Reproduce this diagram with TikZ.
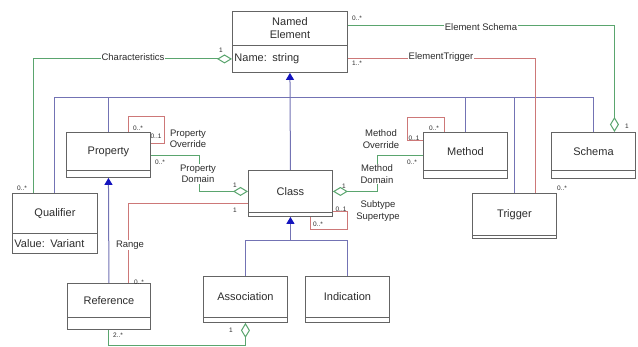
\documentclass[tikz,border=0pt]{standalone}
\usepackage{fontspec}
\setmainfont{Liberation Sans}
\usetikzlibrary{arrows.meta,calc}
\definecolor{boxc}{RGB}{100,100,100}
\definecolor{txtc}{RGB}{45,45,45}
\definecolor{inhc}{RGB}{115,115,180}
\definecolor{grnc}{RGB}{90,165,110}
\definecolor{redc}{RGB}{205,120,120}
\definecolor{tric}{RGB}{20,20,190}
\tikzset{
  clsbox/.style={draw=boxc, line width=0.9pt, fill=white, inner sep=0pt, anchor=north west,
    text=txtc, font=\fontsize{11}{13}\selectfont, align=center},
  cmpbox/.style={draw=boxc, line width=0.9pt, fill=white, inner ysep=0pt, inner xsep=2pt, anchor=north west,
    text=txtc, font=\fontsize{11}{13}\selectfont, align=left},
  inh/.style={draw=inhc, line width=1pt},
  inhtip/.style={inh, -{Triangle[length=7pt,width=8pt,color=tric]}},
  grn/.style={draw=grnc, line width=1pt},
  agg/.style={grn, {Diamond[open,length=15pt,width=9pt,color=grnc]}-},
  rel/.style={draw=redc, line width=1pt},
  lbl/.style={fill=white, inner sep=1pt, text=txtc, font=\fontsize{9.5}{11.5}\selectfont, align=center},
  mult/.style={inner sep=0pt, text=txtc, font=\fontsize{6.5}{7}\selectfont}
}
\begin{document}
\begin{tikzpicture}[x=1pt,y=-1pt]
\fill[white] (0,0) rectangle (638,347);
\useasboundingbox (0,0) rectangle (638,347);

% classes
\node[clsbox, minimum width=115pt, minimum height=34pt] (ne) at (232,11) {Named\\Element};
\node[cmpbox, text width=111pt, minimum height=27pt] (nec) at (232,45) {Name: string};

\node[clsbox, minimum width=84pt, minimum height=38pt] (prop) at (66,132) {Property};
\node[clsbox, minimum width=84pt, minimum height=7pt] (propc) at (66,170) {};

\node[clsbox, minimum width=84pt, minimum height=38pt] (meth) at (423,132) {Method};
\node[clsbox, minimum width=84pt, minimum height=8pt] (methc) at (423,170) {};

\node[clsbox, minimum width=84pt, minimum height=38pt] (sch) at (551,132) {Schema};
\node[clsbox, minimum width=84pt, minimum height=8pt] (schc) at (551,170) {};

\node[clsbox, minimum width=84pt, minimum height=42pt] (cls) at (248,170) {Class};
\node[clsbox, minimum width=84pt, minimum height=4pt] (clsc) at (248,212) {};

\node[clsbox, minimum width=85pt, minimum height=40pt] (qual) at (12,193) {Qualifier};
\node[cmpbox, text width=81pt, minimum height=20pt] (qualc) at (12,233) {Value: Variant};

\node[clsbox, minimum width=84pt, minimum height=42pt] (trg) at (472,193) {Trigger};
\node[clsbox, minimum width=84pt, minimum height=3pt] (trgc) at (472,235) {};

\node[clsbox, minimum width=83pt, minimum height=34pt] (ref) at (67,283) {Reference};
\node[clsbox, minimum width=83pt, minimum height=12pt] (refc) at (67,317) {};

\node[clsbox, minimum width=84pt, minimum height=41pt] (asc) at (203,276) {Association};
\node[clsbox, minimum width=84pt, minimum height=5pt] (ascc) at (203,317) {};

\node[clsbox, minimum width=84pt, minimum height=41pt] (ind) at (305,276) {Indication};
\node[clsbox, minimum width=84pt, minimum height=5pt] (indc) at (305,317) {};

% inheritance tree from Named Element
\coordinate (bus) at (0,98);
\draw[inhtip] (cls.north) -- (nec.south);
\draw[inh] (qual.north) |- (bus -| sch.north) -- (sch.north);
\draw[inh] (prop.north) -- (prop.north |- bus);
\draw[inh] (meth.north) -- (meth.north |- bus);
\draw[inh] (trg.north) -- (trg.north |- bus);
% Reference -> Property
\draw[inhtip] (ref.north) -- (propc.south);
% Association, Indication -> Class
\coordinate (abus) at (0,241);
\draw[inh] (asc.north) |- (abus -| ind.north) -- (ind.north);
\draw[inhtip] (abus -| clsc.south) -- (clsc.south);

% green aggregations
\draw[agg] (nec.west) -| ([xshift=-21.5pt]qual.north);
\draw[agg] ([xshift=21pt]sch.north) |- ([yshift=3pt]ne.east);
\draw[agg] (cls.west) -- ++(-49,0) |- ([yshift=-4pt]prop.east);
\draw[agg] (cls.east) -- ++(45,0) |- ([yshift=-4pt]meth.west);
\draw[agg] (ascc.south) -- ++(0,23) -| (refc.south);

% red associations
\draw[rel] (nec.east) -| ([xshift=21pt]trg.north);
\draw[rel] ([yshift=-12pt]cls.west) -| ([xshift=20pt]ref.north);
\draw[rel] ([xshift=20pt]prop.north) -- ++(0,-15) -| ([xshift=14pt,yshift=8pt]prop.east) -- ([yshift=8pt]prop.east);
\draw[rel] ([yshift=11pt]meth.west) -- ++(-16,0) -- ++(0,-23) -| ([xshift=-21pt]meth.north);
\draw[rel] (clsc.north east) -- ++(15,0) -- ++(0,18) -| ([xshift=20pt]clsc.south);

% association labels
\node[lbl] (lchar) at (133,57) {Characteristics};
\node[lbl] (lesch) at (481,27) {Element Schema};
\node[lbl] (letrg) at (441,57) {ElementTrigger};
\node[lbl] (lpov) at (188,139) {Property\\Override};
\node[lbl] (lpdom) at (198,174) {Property\\Domain};
\node[lbl] (lmov) at (381,139) {Method\\Override};
\node[lbl] (lmdom) at (377,174) {Method\\Domain};
\node[lbl] (lsub) at (378,211) {Subtype\\Supertype};
\node[lbl] (lrange) at (130,245) {Range};

% multiplicities
\node[mult] (m1) at (221,50) {1};
\node[mult] (m2) at (22,188) {0..*};
\node[mult] (m3) at (357,18) {0..*};
\node[mult] (m4) at (627,126) {1};
\node[mult] (m5) at (357,63) {1..*};
\node[mult] (m6) at (562,188) {0..*};
\node[mult] (m7) at (138,128) {0..*};
\node[mult] (m8) at (156,136) {0..1};
\node[mult] (m9) at (160,162) {0..*};
\node[mult] (m10) at (235,185) {1};
\node[mult] (m11) at (344,186) {1};
\node[mult] (m12) at (412,162) {0..*};
\node[mult] (m13) at (414,138) {0..1};
\node[mult] (m14) at (434,128) {0..*};
\node[mult] (m15) at (235,210) {1};
\node[mult] (m16) at (139,282) {0..*};
\node[mult] (m17) at (341,209) {0..1};
\node[mult] (m18) at (318,224) {0..*};
\node[mult] (m19) at (118,335) {2..*};
\node[mult] (m20) at (231,330) {1};
\end{tikzpicture}
\end{document}
